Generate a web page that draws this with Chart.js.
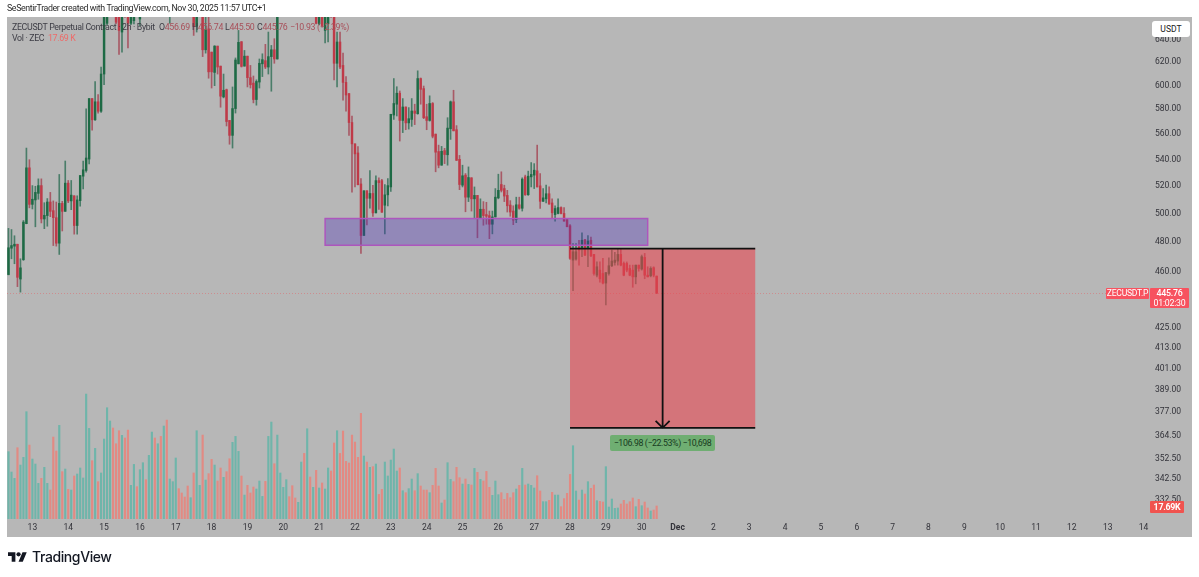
<!DOCTYPE html>
<html><head><meta charset="utf-8">
<script src="https://cdn.jsdelivr.net/npm/chart.js@4"></script>
<style>
html,body{margin:0;padding:0;background:#fff;width:1199px;height:577px;overflow:hidden}
#wrap{position:relative;width:1199px;height:577px;font-family:Roboto,sans-serif}
canvas{position:absolute;left:0;top:0}
.t{position:absolute;white-space:nowrap;line-height:1}
.l{font-size:8.8px;letter-spacing:-.33px;color:#3d3d45}
.tag{position:absolute;background:#f7525f;color:#fff;text-align:center;white-space:nowrap;border-radius:1px;letter-spacing:-.25px}
.r{color:#a8505a}
</style></head><body>
<div id="wrap">
<canvas id="c" width="1199" height="577"></canvas>
<div class="t" style="left:7px;top:4px;font-size:8.8px;letter-spacing:-.38px;color:#2a2a2a">SeSentirTrader created with TradingView.com, Nov 30, 2025 11:57 UTC+1</div>
<div class="t l" style="left:12px;top:23px">ZECUSDT Perpetual Contract · 2h · Bybit</div>
<div class="t l" style="left:159px;top:23px">O<span class="r">456.69</span></div>
<div class="t l" style="left:192px;top:23px">H<span class="r">456.74</span></div>
<div class="t l" style="left:225px;top:23px">L<span class="r">445.50</span></div>
<div class="t l" style="left:257px;top:23px">C<span class="r">445.76</span></div>
<div class="t l r" style="left:290px;top:23px;color:#a8505a">−10.93 (−2.39%)</div>
<div class="t l" style="left:12px;top:34px">Vol · ZEC</div>
<div class="t l" style="left:48px;top:34px;color:#ee6a68">17.69 K</div>
<div class="t" style="left:1152px;top:21px;width:38px;height:16px;background:#fff;border-radius:3px;font-size:8.6px;line-height:16px;text-align:center;color:#222">USDT</div>
<div class="tag" style="left:1106px;top:288px;width:43px;height:11px;font-size:8.6px;line-height:11px">ZECUSDT.P</div>
<div class="tag" style="left:1150px;top:288px;width:39px;height:20px;font-size:8.8px;line-height:10px;font-weight:500">445.76<br><span style="font-weight:400">01:02:30</span></div>
<div class="tag" style="left:1150px;top:501px;width:34px;height:12px;background:#f0534f;font-size:8.8px;line-height:12px;font-weight:700">17.69K</div>
<div class="t" style="left:610px;top:435px;width:105px;height:16px;background:#6fae72;border-radius:2px;font-size:8.8px;letter-spacing:-.4px;line-height:16px;text-align:center;color:#173b1f">−106.98 (−22.53%) −10,698</div>
<svg style="position:absolute;left:8px;top:552px" width="19" height="10" viewBox="0 4 36 18"><path fill="#131722" d="M14 22H7V11H0V4h14v18zM28 22h-8l7.5-18h8L28 22z"/><circle fill="#131722" cx="20" cy="8" r="4"/></svg>
<div class="t" style="left:32px;top:550px;font-family:Inter,sans-serif;font-size:14px;font-weight:500;color:#131722;letter-spacing:-.4px">TradingView</div>
</div>
<script>
const dayLabels = ['13','14','15','16','17','18','19','20','21','22','23','24','25','26','27','28','29','30','Dec','2','3','4','5','6','7','8','9','10','11','12','13','14'];
const priceTicks = [640,620,600,580,560,540,520,500,480,460,425,413,401,389,377,364.5,352.5,342.5,332.5];
const opens = [457.7,475.2,476.6,477.9,454.8,467.5,492.1,532.8,505.8,509,
513.8,519.5,495.4,497.8,507.5,501.3,496.3,478.6,506.5,500.8,
521.3,508.3,512,490.8,508.5,526.5,530.8,539.5,588,570.5,
585.3,577.5,608.9,654.5,684,706,692,676,646.4,672,
668,654.5,657,678,658.5,684,698,684,704,718,
702,720,708,730,700,700,716,730,714,704,
696,688,694,651.8,678,686,630.3,649.4,628.2,610.3,
633.6,615.8,589.4,595.5,570,558,579.7,617.8,637.6,615.8,
624.6,605.8,601.1,587.2,602,617.8,620.6,615,624.2,630.3,
622.1,680,696,708,720,706,698,690,698,716,
696,716,694,704,654,680,647.9,654,676,670,
618.3,637.3,616.4,601.7,592.2,568.3,551.3,544.2,520.7,483.9,
515.7,510.2,513.7,499.7,523.2,523.2,505.2,512.7,518.5,574.4,
583.3,592.5,570,581,568,570.8,577.7,575.5,605,596.4,
573,570,583.9,559,545.3,534.8,546,542.8,563.3,585.3,
562.5,539.3,519.8,527.3,511,525.3,509.8,512.3,496.1,502.3,
498.5,497.8,491.7,496.8,510.5,520.3,517.3,512.3,505.3,501,
495,505.5,503,526,512.8,526,527.3,530.5,519.3,508,
509.8,513.5,506.8,498.5,499.3,503.5,499.3,495,490.6,467.2,
467.9,476.1,475,481,475,480.6,471,457.3,460.6,458.4,
452.2,458.4,463.5,465.7,466.6,471,465,465,461.7,460.6,
456.2,463.9,461.3,469,457.3,456.9,462.2,456.69];
const closes = [475.5,477,477.9,455.9,462.1,493.2,532.8,505.8,509.5,514.5,
519.5,495.4,498,507.5,500.8,496.3,478.6,506.5,500.8,521.3,
508.3,512.5,490.8,509,527,531.3,540.3,588,570.5,585.3,
577.5,608.9,668,686,706,692,655.5,647.9,672,664,
654.5,670,678,668,684,698,684,704,718,702,
720,708,730,712,716,716,730,714,704,696,
688,694,651.5,678,686,630.3,648.5,610.8,610.8,633.6,
615,590,595,569.1,558,579.7,621.2,637,615.6,624.6,
605.8,599.7,587.2,602.5,618.3,621.5,615,624.2,630.3,622.1,
680,696,708,720,706,698,690,698,716,696,
716,694,704,654.5,680,652.4,664,676,664,618.3,
637.3,615,601.7,591,568.3,551.3,543.5,520.2,483.9,515.7,
510.2,513.7,499.7,523.2,521.7,500.2,512.7,519.5,575,583.9,
592.5,570,581,568,571.4,577.7,575.8,605,595.8,572.2,
570,583.9,557.3,544.8,534.8,545.5,543,563.8,585.3,561.6,
538.5,520.3,526.8,511,525.5,509.8,512.3,496.1,502.3,497.8,
497.3,491.7,496.8,511,516,516,511.8,504.8,500.3,494.6,
505.5,503,524.3,512.8,526.5,527.8,531,518.5,508,510.5,
513.5,506,499.8,502.8,503.5,499.3,493.9,489.9,468.4,472.8,
472.8,473.9,480.6,470.6,480.1,470.1,458.4,462.8,455,452.2,
459,463.5,466.6,467.2,471,463.9,457.3,460.6,457.3,456.2,
463.9,461.7,469.5,457.3,456.2,461.7,457.3,445.76];
const highs = [488.8,488,483.7,477.9,468.1,494.3,548,539,519.5,519,
524.5,524.5,507,510,514.5,508.3,507.5,527.8,508,538,
523.3,523.3,512,512,527,538,579.4,588,588,602.5,
591.4,615,672,692,712,716,698,690,676,682,
676,676,684,686,690,704,708,712,724,728,
726,734,738,744,722,724,738,734,722,712,
704,700,700,684,692,690,662,668,628.2,634,
633.6,615.8,608.9,596,570,597.8,623,647.9,637.6,629.7,
624.6,616.4,607.2,603.9,622.1,626.7,635.2,646.4,634.2,640.3,
690,704,716,728,732,716,708,706,726,724,
724,726,712,712,690,690,670,684,686,680,
646.4,646.4,627.3,606.7,592.2,573.5,551.3,549.2,524.7,515.7,
515.7,530.7,519.7,526.7,525.2,524.2,520.2,524.7,575,605,
598,594.4,588,581,580.5,588,583.3,611.7,605.5,598.6,
583.3,590.3,584.7,559,550.3,549.3,547.8,572.2,586,595,
565.8,542.3,534.8,528.5,533.5,525.3,518.5,512.3,509.8,507.8,
507.3,501,501,517.3,528,529.8,519.8,516,508.5,504.8,
511,511,525.3,527.3,530.3,536.8,536,550.3,528.5,517.3,
519.8,518.5,509.8,504.8,509.8,504,503.5,495.4,491.5,478.3,
478.3,480.6,485.7,481.2,483.9,482.8,471,466.1,466.1,468.4,
459,468.8,473.9,472.4,475,475,466,466,463.9,463.9,
463.9,463.9,470.6,471.7,462.8,462.8,462.8,456.74];
const lows = [457.5,468.1,464.8,449.9,446.4,467,492,503.3,502.5,489.9,
509.5,492.6,488.6,490.3,497,477,476.6,471,487,500.8,
507,502,484.8,484.8,504.5,517,529.5,535.8,562.2,570,
576,576.6,599.7,653.3,678,688,654,626.1,628.2,660,
632,653.3,654,664,652.4,672,678,676,696,696,
696,700,702,706,654.5,680,700,710,698,690,
680,672,643.3,646.4,668,624.2,627.3,605.3,596.9,598.9,
608.9,580.8,588.6,565.5,551,548,576,617.8,615,615.8,
597.8,596.9,584.4,582.5,596.9,606.7,613.6,608.9,594.2,618.3,
622,672,686,700,700,692,684,680,690,690,
686,690,680,654,653,651,636.4,637.3,660,603.9,
597.8,613.6,586.6,577.5,558,514.7,518.5,520,471.7,483.9,
491.2,503,497.2,499.7,502.2,500,485,504.7,515.2,570.8,
573.6,553.5,560.2,562.5,563,565.2,566.6,575,583.3,571.4,
562.5,569.4,556,529.8,532.8,534.8,536,534.8,554.8,561.6,
538.5,516.5,518.5,500.5,507.8,501,496.1,482.3,496,491,
491.7,481.7,485,496.8,509.8,514.8,507.8,500.3,497.3,491.4,
492.8,502.3,501,512.3,512.3,518.5,517.3,518.5,502.8,508,
506.8,506,496,493.9,499,499,493.9,490,467.7,447.3,
467.2,463.9,469.5,470.2,462.8,469.5,457.3,456.2,452.8,451.7,
438.4,457.3,462.8,463.9,463.9,463.4,456.9,459.5,456.9,449.5,
451.7,459.9,460.6,455,456.2,456.2,456.2,445.5];
const volumes = [91.6,63.9,55.3,97,73.4,83.9,146,100.6,81.6,74.8,
48.5,55.3,70.3,48.5,39.4,111.5,92.5,127.4,64.4,68,
40.3,39.4,58.5,61.2,69.4,55.8,170,123.3,79.3,96.1,
50.8,62.6,108.8,151.4,133.3,123.8,102.4,120.1,113.8,110.2,
121,45.8,74.3,44,67.1,76.6,53.5,86.6,118.3,110.2,
102.4,112.4,126.5,134.6,54.4,50.8,83,41.3,35.4,29.9,
44.9,29,62.6,120.1,45.8,114.2,53,61.7,81.1,73.4,
51.7,69.4,56.7,64.4,82,104.3,112.4,92,58.5,32.6,
45.8,35.4,43.5,40.8,51.7,30.8,51.2,112.4,131.9,75.2,
114.2,62.6,43.1,53.5,30.4,45.3,28.6,22.7,77.5,89.3,
122.8,57.1,43.1,66.2,42.2,49,40.8,69.4,65.3,103.4,
120.1,89.3,119.7,78.4,76.2,114.2,104.7,83.9,143.7,85.7,
77.5,70.3,71.2,74.8,33.5,40.3,77.5,58.5,80.2,95.2,
65.3,69.4,38.5,35.8,41.3,54.4,38.5,61.7,44.9,39.4,
39.4,35.8,45.8,68.9,44.9,21.8,25.8,76.6,53.9,50.8,
70.3,56.2,47.6,54.4,47.1,46.2,68.9,63.5,53.9,51.7,
64.8,43.1,32.2,51.7,33.1,35.8,26.7,34.9,29,35.8,
40.8,45.8,68.9,46.2,47.6,45.8,42.2,58.9,38.1,23.6,
23.6,25.4,36.3,32.6,32.6,16.8,27.7,34.9,60.7,99.7,
38.1,25.8,39.4,34,50.8,41.7,46.2,24.9,24,23.1,
71.2,16.3,27.2,14.5,15,20.4,25.4,20.4,23.6,28.6,
16.8,26.7,18.1,23.1,15,10.9,12.2,17.69];

const firstDaySlot = 8, slotsPerDay = 12, slotCount = 382;
const xLabels = Array.from({length: slotCount}, (_, n) => (n - firstDaySlot) % slotsPerDay === 0 ? (dayLabels[(n - firstDaySlot) / slotsPerDay] ?? '') : '');
const up = closes.map((c, i) => c >= opens[i]);

const supportZone = {from: 106, to: 214, low: 477.2, high: 495.7};
const measureZone = {from: 188, to: 250, mid: 219, high: 474.98, low: 368.0};
const lastPrice = 445.76;

const paneBackground = {
  id: 'paneBackground',
  beforeDraw(chart) {
    const {ctx} = chart;
    ctx.save();
    ctx.fillStyle = '#b7b7b7';
    ctx.fillRect(7, 17, 1185, 520);
    ctx.restore();
  }
};
const drawings = {
  id: 'drawings',
  afterDatasetsDraw(chart) {
    const {ctx, chartArea: a, scales: {x, y}} = chart;
    ctx.save();
    ctx.beginPath(); ctx.rect(a.left, a.top, a.width, a.height); ctx.clip();
    const ly = y.getPixelForValue(lastPrice);
    ctx.strokeStyle = 'rgba(230,90,95,.45)'; ctx.lineWidth = 1; ctx.setLineDash([1, 2]);
    ctx.beginPath(); ctx.moveTo(a.left, Math.round(ly) + .5); ctx.lineTo(a.right, Math.round(ly) + .5); ctx.stroke();
    ctx.setLineDash([]);
    let x0 = x.getPixelForValue(supportZone.from), x1 = x.getPixelForValue(supportZone.to);
    let y0 = y.getPixelForValue(supportZone.high), y1 = y.getPixelForValue(supportZone.low);
    ctx.fillStyle = 'rgba(75,46,189,.34)';
    ctx.fillRect(x0, y0, x1 - x0, y1 - y0);
    ctx.strokeStyle = '#ad56bd'; ctx.lineWidth = 1.5;
    ctx.strokeRect(x0, y0, x1 - x0, y1 - y0);
    x0 = x.getPixelForValue(measureZone.from); x1 = x.getPixelForValue(measureZone.to);
    y0 = y.getPixelForValue(measureZone.high); y1 = y.getPixelForValue(measureZone.low);
    ctx.fillStyle = 'rgba(233,67,78,.58)';
    ctx.fillRect(x0, y0, x1 - x0, y1 - y0);
    ctx.strokeStyle = '#111'; ctx.lineWidth = 1.8;
    ctx.beginPath();
    ctx.moveTo(x0, y0); ctx.lineTo(x1, y0);
    ctx.moveTo(x0, y1); ctx.lineTo(x1, y1);
    const xm = x.getPixelForValue(measureZone.mid);
    ctx.moveTo(xm, y0); ctx.lineTo(xm, y1);
    ctx.moveTo(xm - 7, y1 - 7); ctx.lineTo(xm, y1); ctx.lineTo(xm + 7, y1 - 7);
    ctx.stroke();
    ctx.restore();
  }
};

new Chart(document.getElementById('c'), {
  type: 'bar',
  data: {
    labels: xLabels,
    datasets: [
      {label: 'Volume', yAxisID: 'yVol', order: 3, grouped: false, barThickness: 1.5,
       data: volumes, backgroundColor: up.map(u => u ? '#6fb5aa' : '#e28a83')},
      {label: 'Wick', yAxisID: 'y', order: 2, grouped: false, barThickness: 1,
       data: lows.map((l, i) => [l, highs[i]]), backgroundColor: up.map(u => u ? '#4a7d69' : '#a85a66')},
      {label: 'Body', yAxisID: 'y', order: 1, grouped: false, barThickness: 1.8,
       data: opens.map((o, i) => [Math.min(o, closes[i]), Math.max(o, closes[i])]), backgroundColor: up.map(u => u ? '#1e6a45' : '#bf3a48')}
    ]
  },
  options: {
    responsive: false, animation: false, devicePixelRatio: 1,
    layout: {padding: {left: 7, top: 17, right: 7, bottom: 40}},
    plugins: {legend: {display: false}, tooltip: {enabled: false}},
    scales: {
      x: {
        type: 'category', offset: true,
        grid: {display: false, drawTicks: false}, border: {display: false},
        ticks: {autoSkip: false, maxRotation: 0, minRotation: 0, padding: 4, color: '#33333a',
          font: ctx => ({family: 'Roboto', size: 8.5, weight: ctx.tick && ctx.tick.label === 'Dec' ? '700' : '400'})},
        afterFit(s) { s.height = 18; }
      },
      y: {
        type: 'logarithmic', position: 'right', min: 323.2, max: 660.4,
        grid: {display: false, drawTicks: false}, border: {display: false},
        afterBuildTicks(s) { s.ticks = priceTicks.map(v => ({value: v})); },
        ticks: {padding: 7, labelOffset: 1, color: '#33333a', font: {family: 'Roboto', size: 8.5},
          callback: v => Number(v).toFixed(2)},
        afterFit(s) { s.width = 44; }
      },
      yVol: {type: 'linear', display: false, min: 0, max: 683}
    }
  },
  plugins: [paneBackground, drawings]
});
</script>
</body></html>
